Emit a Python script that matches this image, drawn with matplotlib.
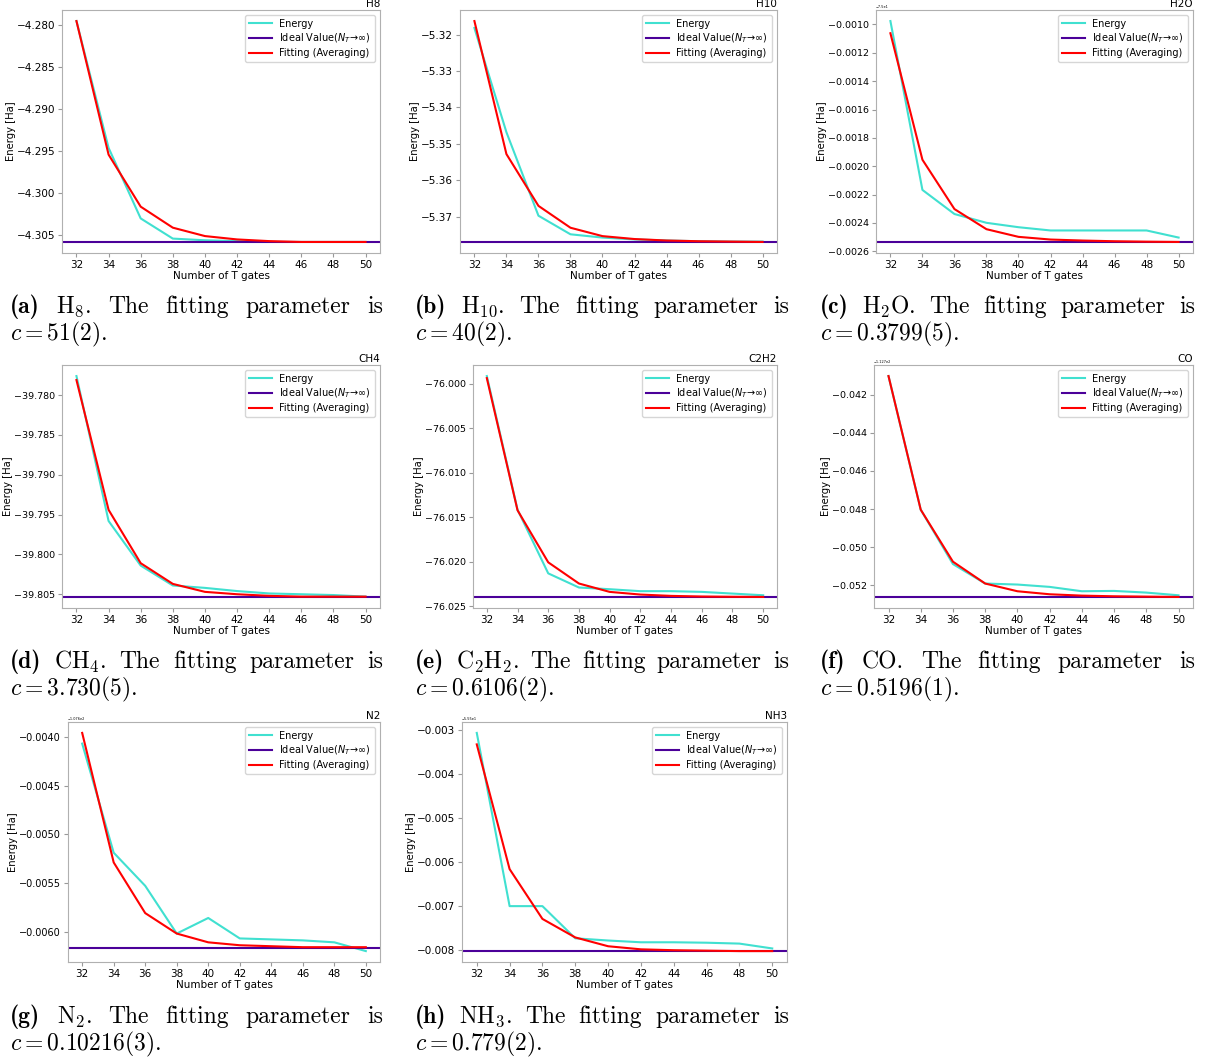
import numpy as np
import matplotlib.pyplot as plt

W, H = 1214, 1063

# ---------------- data ----------------
n_t = [32, 34, 36, 38, 40, 42, 44, 46, 48, 50]

h8_energy = [-4.2795, -4.2946, -4.3030, -4.3054, -4.3056, -4.3057, -4.3058, -4.3058, -4.3058, -4.3058]
h8_fit = [-4.2795, -4.2954, -4.3016, -4.3041, -4.3051, -4.3055, -4.3057, -4.3058, -4.3058, -4.3058]
h8_ideal = -4.3058

h10_energy = [-5.3182, -5.3468, -5.3697, -5.3748, -5.3757, -5.3762, -5.3765, -5.3767, -5.3768, -5.3768]
h10_fit = [-5.3163, -5.3528, -5.3670, -5.3730, -5.3753, -5.3761, -5.3765, -5.3767, -5.3768, -5.3769]
h10_ideal = -5.3769

h2o_energy = [-0.000976, -0.002167, -0.002337, -0.002399, -0.002430, -0.002453, -0.002453, -0.002453, -0.002453, -0.002503]
h2o_fit = [-0.001062, -0.001954, -0.002302, -0.002444, -0.002498, -0.002517, -0.002524, -0.002529, -0.002532, -0.002534]
h2o_ideal = -0.002534

ch4_energy = [-39.7776, -39.7958, -39.8014, -39.8039, -39.8042, -39.8046, -39.8049, -39.8050, -39.8051, -39.8053]
ch4_fit = [-39.7781, -39.7944, -39.8011, -39.8037, -39.8047, -39.8050, -39.8052, -39.8053, -39.8053, -39.8053]
ch4_ideal = -39.80534

c2h2_energy = [-75.99913, -76.01414, -76.02130, -76.02289, -76.02308, -76.02330, -76.02330, -76.02338, -76.02357, -76.02376]
c2h2_fit = [-75.99936, -76.01421, -76.02006, -76.02244, -76.02338, -76.02368, -76.02383, -76.02390, -76.02393, -76.02395]
c2h2_ideal = -76.02395

co_energy = [-0.041012, -0.048032, -0.050889, -0.051912, -0.051965, -0.052088, -0.052317, -0.052300, -0.052388, -0.052529]
co_fit = [-0.041012, -0.048032, -0.050765, -0.051912, -0.052317, -0.052476, -0.052547, -0.052582, -0.052600, -0.052617]
co_ideal = -0.052617

n2_energy = [-0.00407, -0.00519, -0.00553, -0.00602, -0.00586, -0.00607, -0.00608, -0.00609, -0.00611, -0.00620]
n2_fit = [-0.00396, -0.00529, -0.00581, -0.00602, -0.00611, -0.00614, -0.00615, -0.00616, -0.00616, -0.00616]
n2_ideal = -0.00617

nh3_energy = [-0.00307, -0.00700, -0.00700, -0.00773, -0.00778, -0.00782, -0.00782, -0.00783, -0.00785, -0.00796]
nh3_fit = [-0.00333, -0.00616, -0.00729, -0.00771, -0.00791, -0.00798, -0.00800, -0.00801, -0.00802, -0.00802]
nh3_ideal = -0.00802

titles = ["H8", "H10", "H2O", "CH4", "C2H2", "CO", "N2", "NH3"]
energies = [h8_energy, h10_energy, h2o_energy, ch4_energy, c2h2_energy, co_energy, n2_energy, nh3_energy]
fits = [h8_fit, h10_fit, h2o_fit, ch4_fit, c2h2_fit, co_fit, n2_fit, nh3_fit]
ideals = [h8_ideal, h10_ideal, h2o_ideal, ch4_ideal, c2h2_ideal, co_ideal, n2_ideal, nh3_ideal]
offsets = [None, None, "\u22127.5e1", None, None, "\u22121.127e2", "\u22121.076e2", "\u22125.55e1"]
yticks = [None, None, None, None, None, None,
          [-0.0060, -0.0055, -0.0050, -0.0045, -0.0040], None]

cap_labels = ["(a)", "(b)", "(c)", "(d)", "(e)", "(f)", "(g)", "(h)"]
cap_mol = ["H$_8$.", "H$_{10}$.", "H$_2$O.", "CH$_4$.", "C$_2$H$_2$.", "CO.", "N$_2$.", "NH$_3$."]
cap_param = ["51(2)", "40(2)", "0.3799(5)", "3.730(5)", "0.6106(2)", "0.5196(1)", "0.10216(3)", "0.779(2)"]

# axes boxes in pixels: left, right, top, bottom
boxes = [(62, 380, 10, 253), (460, 777, 10, 253), (876, 1193, 10, 253),
         (62, 380, 365, 608), (473, 777, 365, 608), (874, 1193, 365, 608),
         (68, 380, 722, 962), (462, 787, 722, 962)]
# tick-label size per panel (the subfigures were scaled differently)
tick_fs = [7.5, 7.5, 6.8, 6.8, 6.8, 6.8, 7.0, 7.5]
cap_cols = [(10, 383), (415, 789), (820, 1195)]
cap_rows = [307, 662, 1017]

fig = plt.figure(figsize=(W / 100, H / 100), dpi=100)

for i in range(8):
    l, r, t, b = boxes[i]
    ax = fig.add_axes([l / W, 1 - b / H, (r - l) / W, (b - t) / H])
    ax.plot(n_t, energies[i], color='turquoise', lw=1.5, label='Energy')
    ax.axhline(ideals[i], color='#4b0099', lw=1.5, label=r'Ideal Value($N_T\!\to\!\infty$)')
    ax.plot(n_t, fits[i], color='red', lw=1.5, label='Fitting (Averaging)')
    ax.set_xticks(n_t)
    if yticks[i] is not None:
        ax.set_yticks(yticks[i])
    ax.tick_params(labelsize=tick_fs[i], color='#999999', length=3, pad=2)
    ax.tick_params(axis='x', labelsize=7.5)
    for s in ax.spines.values():
        s.set_color('#b0b0b0')
    ax.set_xlabel("Number of T gates", fontsize=7.5, labelpad=1)
    ax.set_ylabel("Energy [Ha]", fontsize=7.2, labelpad=0.5)
    ax.set_title(titles[i], loc='right', fontsize=7.5, pad=2)
    if offsets[i]:
        ax.text(0, 1.004, offsets[i], transform=ax.transAxes, fontsize=2.5, va='bottom')
    ax.legend(loc='upper right', fontsize=7, handlelength=2.3, borderpad=0.4, labelspacing=0.3)

# captions (justified first line)
renderer = fig.canvas.get_renderer()
fs = 17
for i in range(8):
    x0, x1 = cap_cols[i % 3]
    y = 1 - cap_rows[i // 3] / H
    y2 = 1 - (cap_rows[i // 3] + 27) / H
    items = [fig.text(0, y, cap_labels[i], family='cmb10', fontsize=fs, va='center')]
    for w in [cap_mol[i], "The", "fitting", "parameter", "is"]:
        items.append(fig.text(0, y, w, family='cmr10', fontsize=fs, va='center',
                              math_fontfamily='cm'))
    widths = [t.get_window_extent(renderer).width for t in items]
    gap = ((x1 - x0) - sum(widths)) / (len(items) - 1)
    pos = x0
    for t, w in zip(items, widths):
        t.set_x(pos / W)
        pos += w + gap
    fig.text(x0 / W, y2, r"$c = %s$." % cap_param[i], family='cmr10', fontsize=fs,
             va='center', math_fontfamily='cm')

fig.savefig("out.png", dpi=100)
